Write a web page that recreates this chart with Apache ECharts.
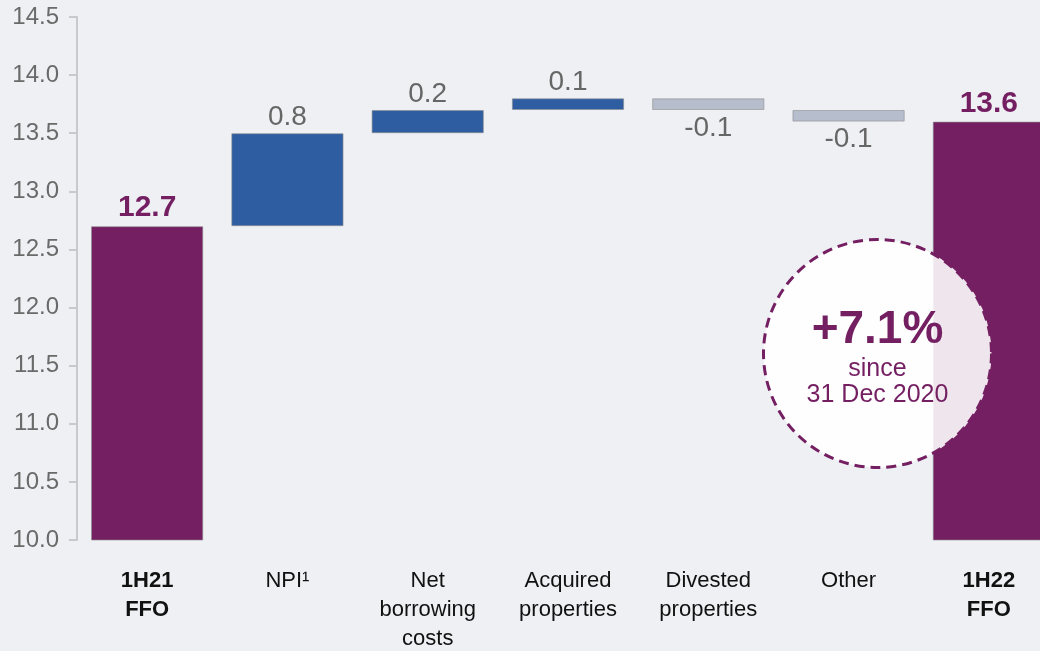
<!DOCTYPE html>
<html>
<head>
<meta charset="utf-8">
<script src="https://cdn.jsdelivr.net/npm/echarts@6/dist/echarts.min.js"></script>
<style>
  html, body { margin: 0; padding: 0; background: #eff0f4; }
  #chart { width: 1040px; height: 651px; }
</style>
</head>
<body>
<div id="chart"></div>
<script>
// FFO bridge: 1H21 -> 1H22 (cents per unit)
const categories = ['1H21\nFFO', 'NPI¹', 'Net\nborrowing\ncosts', 'Acquired\nproperties', 'Divested\nproperties', 'Other', '1H22\nFFO'];
const startTotal = 12.7;
const endTotal = 13.6;
const changes = [0.8, 0.2, 0.1, -0.1, -0.1];
const yTicks = { min: 10, max: 14.5, interval: 0.5 };

const PURPLE = '#741f62';
const BLUE = '#2f5da2';
const GREY = '#b6bdcc';
const FONT = 'Liberation Sans, Arial, sans-serif';

// Build the invisible base, totals, increases and decreases for a stacked waterfall
const n = categories.length;
const base = new Array(n).fill('-');
const totals = new Array(n).fill('-');
const ups = new Array(n).fill('-');
const downs = new Array(n).fill('-');
totals[0] = startTotal;
totals[n - 1] = endTotal;
let running = startTotal;
changes.forEach((c, i) => {
  const idx = i + 1;
  if (c >= 0) {
    base[idx] = +running.toFixed(2);
    ups[idx] = c;
  } else {
    base[idx] = +(running + c).toFixed(2);
    downs[idx] = -c;
  }
  running = +(running + c).toFixed(2);
});

const chart = echarts.init(document.getElementById('chart'));

const barBorder = { borderColor: 'rgba(140,140,140,0.6)', borderWidth: 1 };

chart.setOption({
  backgroundColor: '#eff0f4',
  animation: false,
  // the last column runs past the right edge of the canvas
  grid: { left: 77, top: 17, width: 982, height: 523, containLabel: false, outerBoundsMode: 'none' },
  xAxis: {
    type: 'category',
    data: categories,
    axisLine: { show: false },
    axisTick: { show: false },
    axisLabel: {
      interval: 0,
      margin: 26,
      color: '#111111',
      fontSize: 22,
      lineHeight: 29,
      formatter: (value, index) => {
        const bold = index === 0 || index === n - 1;
        return value.split('\n').map(l => (bold ? '{b|' + l + '}' : '{r|' + l + '}')).join('\n');
      },
      rich: {
        b: { fontWeight: 'bold', fontSize: 22, lineHeight: 29, color: '#111111', fontFamily: FONT },
        r: { fontSize: 22, lineHeight: 29, color: '#111111', fontFamily: FONT }
      }
    }
  },
  yAxis: {
    type: 'value',
    min: yTicks.min,
    max: yTicks.max,
    interval: yTicks.interval,
    axisLine: { show: true, lineStyle: { color: '#c9c9cb', width: 2 } },
    axisTick: { show: true, length: 8, lineStyle: { color: '#c9c9cb', width: 2 } },
    splitLine: { show: false },
    axisLabel: {
      margin: 18,
      color: '#6a6a6a',
      fontSize: 24,
      fontFamily: FONT,
      formatter: v => v.toFixed(1)
    }
  },
  series: [
    {
      name: 'base',
      type: 'bar',
      stack: 'wf',
      barWidth: '80%',
      itemStyle: { color: 'transparent', borderWidth: 0 },
      silent: true,
      data: base
    },
    {
      name: 'total',
      type: 'bar',
      stack: 'wf',
      itemStyle: Object.assign({ color: PURPLE }, barBorder),
      label: {
        show: true,
        position: 'top',
        distance: 3,
        color: PURPLE,
        fontWeight: 'bold',
        fontSize: 30,
        fontFamily: FONT,
        formatter: p => p.value.toFixed(1)
      },
      data: totals
    },
    {
      name: 'increase',
      type: 'bar',
      stack: 'wf',
      itemStyle: Object.assign({ color: BLUE }, barBorder),
      label: {
        show: true,
        position: 'top',
        distance: 2,
        color: '#666666',
        fontSize: 28,
        fontFamily: FONT,
        formatter: p => p.value.toFixed(1)
      },
      data: ups
    },
    {
      name: 'decrease',
      type: 'bar',
      stack: 'wf',
      itemStyle: Object.assign({ color: GREY }, barBorder),
      label: {
        show: true,
        position: 'bottom',
        distance: 4,
        color: '#666666',
        fontSize: 28,
        fontFamily: FONT,
        formatter: p => (-p.value).toFixed(1)
      },
      data: downs
    }
  ],
  graphic: [
    {
      type: 'group',
      left: 762,
      top: 238,
      z: 100,
      children: [
        {
          type: 'circle',
          shape: { cx: 115.5, cy: 115.5, r: 114 },
          style: { fill: 'rgba(255,255,255,0.885)', stroke: PURPLE, lineWidth: 3, lineDash: [10, 6] },
          z: 100
        },
        {
          type: 'text',
          x: 115.5, y: 92,
          style: { text: '+7.1%', fill: PURPLE, font: 'bold 46px ' + FONT, align: 'center', verticalAlign: 'middle' },
          z: 101
        },
        {
          type: 'text',
          x: 115.5, y: 131,
          style: { text: 'since', fill: PURPLE, font: '25px ' + FONT, align: 'center', verticalAlign: 'middle' },
          z: 101
        },
        {
          type: 'text',
          x: 115.5, y: 157,
          style: { text: '31 Dec 2020', fill: PURPLE, font: '25px ' + FONT, align: 'center', verticalAlign: 'middle' },
          z: 101
        }
      ]
    }
  ]
});
</script>
</body>
</html>
